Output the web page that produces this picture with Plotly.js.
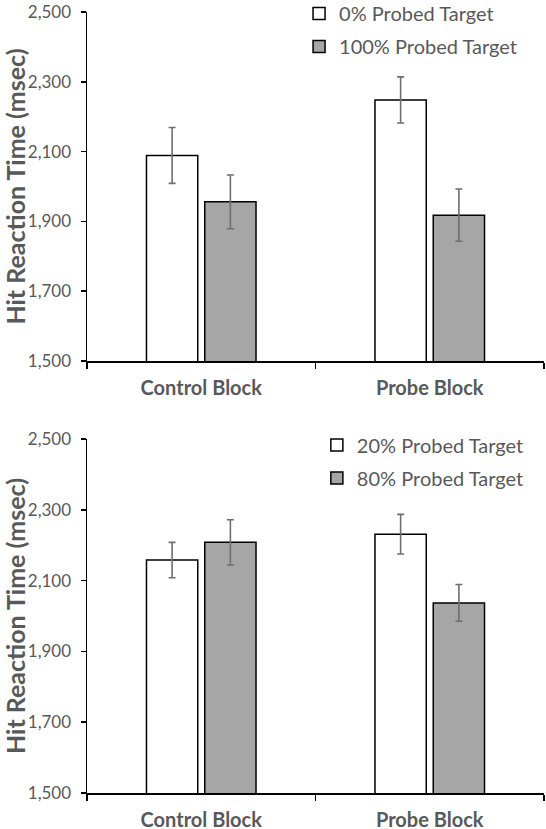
<!DOCTYPE html>
<html>
<head>
<meta charset="utf-8">
<script src="https://cdn.plot.ly/plotly-3.0.1.min.js"></script>
<style>
  html, body { margin: 0; padding: 0; background: #fff; }
  #chart { width: 546px; height: 829px; }
</style>
</head>
<body>
<div id="chart"></div>
<script>
// Block conditions shared by both panels
const blocks = ['Control Block', 'Probe Block'];

// Panel 1: 0% vs 100% probed targets (mean hit RT, msec, with error)
const p1Names = ['0% Probed Target', '100% Probed Target'];
const p1Low = [2089, 2248];
const p1LowErr = [80, 66];
const p1High = [1956, 1918];
const p1HighErr = [77, 75];

// Panel 2: 20% vs 80% probed targets
const p2Names = ['20% Probed Target', '80% Probed Target'];
const p2Low = [2158, 2231];
const p2LowErr = [50, 56];
const p2High = [2208, 2037];
const p2HighErr = [64, 52];

const yTicks = [1500, 1700, 1900, 2100, 2300, 2500];

const FONT = 'Lato, "Open Sans", sans-serif';
const TEXT_GRAY = '#595959';
const BAR_GRAY = '#a6a6a6';

function barTrace(name, y, err, fill, xa, ya, legend, group) {
  return {
    type: 'bar',
    name: name,
    x: blocks,
    y: y,
    xaxis: xa,
    yaxis: ya,
    legend: legend,
    legendgroup: group,
    marker: { color: fill, line: { color: '#000', width: 1.5 } },
    error_y: { type: 'data', array: err, visible: true, color: '#6f6f6f', thickness: 1.6, width: 3.5 },
    hoverinfo: 'skip'
  };
}

const data = [
  barTrace(p1Names[0], p1Low, p1LowErr, '#ffffff', 'x', 'y', 'legend', 'a'),
  barTrace(p1Names[1], p1High, p1HighErr, BAR_GRAY, 'x', 'y', 'legend', 'b'),
  barTrace(p2Names[0], p2Low, p2LowErr, '#ffffff', 'x2', 'y2', 'legend2', 'c'),
  barTrace(p2Names[1], p2High, p2HighErr, BAR_GRAY, 'x2', 'y2', 'legend2', 'd')
];

function xAxis(anchor) {
  return {
    anchor: anchor,
    domain: [0, 1],
    automargin: false,
    showline: true, linecolor: '#000', linewidth: 1.5,
    ticks: 'outside', tickson: 'boundaries', ticklen: 6, tickwidth: 1.5, tickcolor: '#000',
    ticklabelstandoff: 8,
    tickfont: { family: FONT, size: 20, color: TEXT_GRAY, weight: 'bold' },
    showgrid: false, zeroline: false, fixedrange: true
  };
}

function yAxis(anchor, domain) {
  return {
    anchor: anchor,
    domain: domain,
    automargin: false,
    range: [1500, 2500],
    tickvals: yTicks,
    ticktext: yTicks.map(v => v.toLocaleString('en-US')),
    showline: true, linecolor: '#000', linewidth: 1.5,
    ticks: 'outside', ticklen: 5, tickwidth: 1.5, tickcolor: '#000',
    ticklabelstandoff: 6,
    ticklabeloverflow: 'allow',
    tickfont: { family: FONT, size: 17, color: TEXT_GRAY },
    title: { text: 'Hit Reaction Time (msec)', standoff: 0,
             font: { family: FONT, size: 25, color: TEXT_GRAY, weight: 'bold' } },
    showgrid: false, zeroline: false, fixedrange: true
  };
}

function legendBox(x, y) {
  return {
    x: x, y: y, xref: 'paper', yref: 'paper', xanchor: 'left', yanchor: 'top',
    orientation: 'v', traceorder: 'grouped', tracegroupgap: 4,
    bgcolor: 'rgba(0,0,0,0)', borderwidth: 0,
    font: { family: FONT, size: 20, color: TEXT_GRAY },
    itemwidth: 30
  };
}

const layout = {
  width: 546, height: 829,
  margin: { l: 87, r: 2, t: 12, b: 36, autoexpand: false },
  paper_bgcolor: '#fff', plot_bgcolor: '#fff',
  showlegend: true,
  barmode: 'group',
  bargap: 0.49,
  bargroupgap: 0.12,
  xaxis: xAxis('y'),
  yaxis: yAxis('x', [0.5531, 1]),
  xaxis2: xAxis('y2'),
  yaxis2: yAxis('x2', [0, 0.4533]),
  legend: legendBox(0.464, 1.023),
  legend2: legendBox(0.503, 0.4704)
};

Plotly.newPlot('chart', data, layout, { displayModeBar: false, staticPlot: true });
</script>
</body>
</html>
